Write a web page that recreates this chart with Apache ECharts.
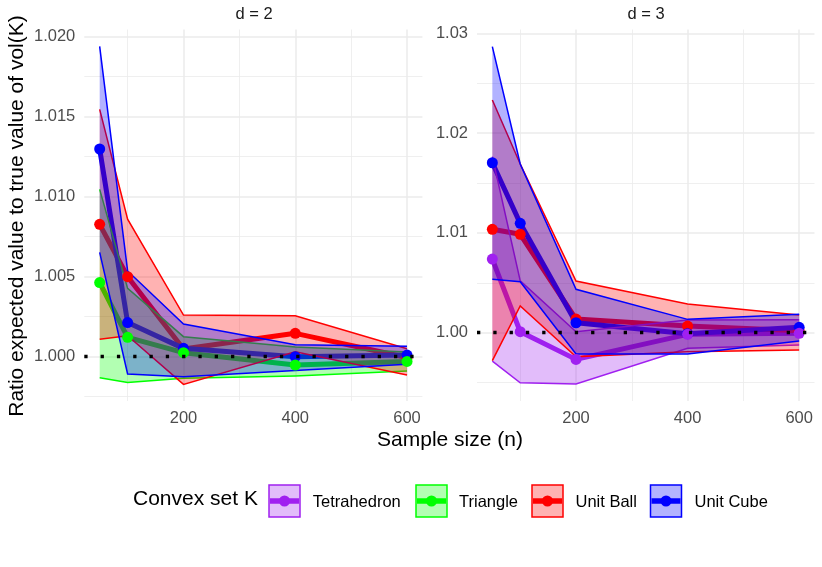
<!DOCTYPE html>
<html>
<head>
<meta charset="utf-8">
<script src="https://cdn.jsdelivr.net/npm/echarts@6/dist/echarts.min.js"></script>
<style>
html, body { margin: 0; padding: 0; background: #fff; }
#main { width: 822px; height: 567px; }
</style>
</head>
<body>
<div id="main"></div>
<script>
// sample sizes on the x axis
var sample_size = [50, 100, 200, 400, 600];

// d = 2
var triangle_mean = [1.00463, 1.00121, 1.00025, 0.99948, 0.99970];
var triangle_low  = [0.99869, 0.99838, 0.99865, 0.99880, 0.99910];
var triangle_up   = [1.01046, 1.00427, 1.00125, 1.00060, 1.00030];
var ball2_mean = [1.00827, 1.00500, 1.00048, 1.00146, 0.99995];
var ball2_low  = [1.00109, 1.00131, 0.99827, 1.00031, 0.99886];
var ball2_up   = [1.01546, 1.00860, 1.00260, 1.00256, 1.00050];
var cube2_mean = [1.01298, 1.00213, 1.00052, 1.00000, 1.00010];
var cube2_low  = [1.00652, 0.99892, 0.99875, 0.99914, 0.99952];
var cube2_up   = [1.01940, 1.00536, 1.00204, 1.00075, 1.00065];

// d = 3
var tetra_mean = [1.00738, 1.00010, 0.99733, 0.99984, 0.99994];
var tetra_low  = [0.99716, 0.99499, 0.99486, 0.99844, 0.99877];
var tetra_up   = [1.01764, 1.00520, 1.00010, 1.00127, 1.00130];
var ball3_mean = [1.01036, 1.00986, 1.00137, 1.00067, 1.00020];
var ball3_low  = [0.99720, 1.00268, 0.99760, 0.99810, 0.99827];
var ball3_up   = [1.02332, 1.01690, 1.00518, 1.00288, 1.00177];
var cube3_mean = [1.01703, 1.01096, 1.00100, 0.99990, 1.00054];
var cube3_low  = [1.00535, 1.00511, 0.99787, 0.99787, 0.99917];
var cube3_up   = [1.02866, 1.01690, 1.00435, 1.00134, 1.00184];

// tick values
var x_major = [200, 400, 600];
var x_minor = [100, 300, 500];
var y2_major = [1.000, 1.005, 1.010, 1.015, 1.020];
var y2_minor = [0.9975, 1.0025, 1.0075, 1.0125, 1.0175];
var y3_major = [1.00, 1.01, 1.02, 1.03];
var y3_minor = [0.995, 1.005, 1.015, 1.025];

var shape_names = ['Tetrahedron', 'Triangle', 'Unit Ball', 'Unit Cube'];
var colors = {
    'Tetrahedron': '#A020F0',
    'Triangle': '#00FF00',
    'Unit Ball': '#FF0000',
    'Unit Cube': '#0000FF'
};

var font = 'Liberation Sans, Arial, Helvetica, sans-serif';

function pairs(ys) {
    return sample_size.map(function (x, i) { return [x, ys[i]]; });
}
function fade(hex, a) {
    var r = parseInt(hex.substr(1, 2), 16), g = parseInt(hex.substr(3, 2), 16), b = parseInt(hex.substr(5, 2), 16);
    return 'rgba(' + r + ',' + g + ',' + b + ',' + a + ')';
}

// ribbon between low and up, drawn once for the whole band
function ribbonRenderer(low, up, c) {
    return function (params, api) {
        if (params.dataIndex !== 0) return null;
        var up_pts = sample_size.map(function (x, i) { return api.coord([x, up[i]]); });
        var low_pts = sample_size.map(function (x, i) { return api.coord([x, low[i]]); });
        var poly = up_pts.concat(low_pts.slice().reverse());
        return {
            type: 'group',
            children: [
                { type: 'polygon', shape: { points: poly }, style: { fill: fade(c, 0.3) } },
                { type: 'polyline', shape: { points: up_pts }, style: { stroke: c, lineWidth: 1.5, fill: null } },
                { type: 'polyline', shape: { points: low_pts }, style: { stroke: c, lineWidth: 1.5, fill: null } }
            ]
        };
    };
}

var panels = [
    {
        title: 'd = 2',
        ymin: 0.99723, ymax: 1.02045, major: y2_major, minor: y2_minor, digits: 3,
        groups: [
            ['Triangle', triangle_mean, triangle_low, triangle_up],
            ['Unit Ball', ball2_mean, ball2_low, ball2_up],
            ['Unit Cube', cube2_mean, cube2_low, cube2_up]
        ]
    },
    {
        title: 'd = 3',
        ymin: 0.99316, ymax: 1.03038, major: y3_major, minor: y3_minor, digits: 2,
        groups: [
            ['Tetrahedron', tetra_mean, tetra_low, tetra_up],
            ['Unit Ball', ball3_mean, ball3_low, ball3_up],
            ['Unit Cube', cube3_mean, cube3_low, cube3_up]
        ]
    }
];
// points: unit ball, unit cube, then the d-specific shape on top
var point_order = [1, 2, 0];

var grids = [
    { left: 84.3, right: 399.6, top: 29.5, bottom: 166 },
    { left: 477, right: 7.5, top: 29.5, bottom: 166 }
];

var xAxes = [], yAxes = [], series = [];

panels.forEach(function (p, pi) {
    // major + minor axes for each panel
    xAxes.push({
        gridIndex: pi, type: 'value', min: 22.5, max: 627.5,
        axisLine: { show: false },
        axisTick: { show: false, customValues: x_major },
        axisLabel: { customValues: x_major, color: '#4D4D4D', fontSize: 16.5, fontFamily: font, margin: 9 },
        splitLine: { show: true, lineStyle: { color: '#EBEBEB', width: 1.5 } }
    });
    xAxes.push({
        gridIndex: pi, type: 'value', min: 22.5, max: 627.5, position: 'bottom',
        axisLine: { show: false },
        axisTick: { show: false, customValues: x_minor },
        axisLabel: { show: false },
        splitLine: { show: true, lineStyle: { color: '#EBEBEB', width: 0.8 } }
    });
    yAxes.push({
        gridIndex: pi, type: 'value', min: p.ymin, max: p.ymax,
        axisLine: { show: false },
        axisTick: { show: false, customValues: p.major },
        axisLabel: {
            customValues: p.major, color: '#4D4D4D', fontSize: 16.5, fontFamily: font, margin: 9,
            formatter: (function (dg) { return function (v) { return Number(v).toFixed(dg); }; })(p.digits)
        },
        splitLine: { show: true, lineStyle: { color: '#EBEBEB', width: 1.5 } }
    });
    yAxes.push({
        gridIndex: pi, type: 'value', min: p.ymin, max: p.ymax, position: 'left',
        axisLine: { show: false },
        axisTick: { show: false, customValues: p.minor },
        axisLabel: { show: false },
        splitLine: { show: true, lineStyle: { color: '#EBEBEB', width: 0.8 } }
    });

    var xi = pi * 2, yi = pi * 2;

    // mean lines (drawn under the ribbons)
    p.groups.forEach(function (g) {
        series.push({
            name: g[0], type: 'line', xAxisIndex: xi, yAxisIndex: yi,
            data: pairs(g[1]), showSymbol: false, silent: true, z: 2,
            lineStyle: { color: colors[g[0]], width: 5, join: 'round' }
        });
    });

    // ribbons
    p.groups.forEach(function (g) {
        series.push({
            name: g[0], type: 'custom', xAxisIndex: xi, yAxisIndex: yi,
            data: sample_size.map(function (x, i) { return [x, g[2][i], g[3][i]]; }),
            encode: { x: 0, y: [1, 2] },
            renderItem: ribbonRenderer(g[2], g[3], colors[g[0]]),
            silent: true, z: 3
        });
    });

    // points
    point_order.forEach(function (k, j) {
        var g = p.groups[k];
        var s = {
            name: g[0], type: 'scatter', xAxisIndex: xi, yAxisIndex: yi,
            data: pairs(g[1]), symbolSize: 11, silent: true, z: 4,
            itemStyle: { color: colors[g[0]], opacity: 1 }
        };
        if (j === point_order.length - 1) {
            s.markLine = {
                silent: true, symbol: ['none', 'none'], label: { show: false },
                lineStyle: { color: '#000000', width: 3.3, type: [3.3, 13], opacity: 1 },
                data: [{ yAxis: 1 }]
            };
        }
        series.push(s);
    });
});

// legend keys
var key_x = [269, 416, 532, 650.5];
var label_x = [312.7, 459, 575.5, 694.5];
var legend_items = [];
legend_items.push({
    type: 'text', left: 133, top: 501 - 12,
    style: { text: 'Convex set K', fill: '#000', font: '21px ' + font }
});
shape_names.forEach(function (name, i) {
    var c = colors[name];
    var kx = key_x[i];
    legend_items.push({
        type: 'rect', shape: { x: kx, y: 485, width: 31, height: 32 },
        style: { fill: fade(c, 0.3), stroke: c, lineWidth: 1.5 }
    });
    legend_items.push({
        type: 'line', shape: { x1: kx + 1, y1: 501, x2: kx + 30, y2: 501 },
        style: { stroke: c, lineWidth: 5.5 }
    });
    legend_items.push({
        type: 'circle', shape: { cx: kx + 15.5, cy: 501, r: 5.5 },
        style: { fill: c }
    });
    legend_items.push({
        type: 'text', x: label_x[i], y: 502,
        style: { text: name, fill: '#000', font: '16.5px ' + font, textAlign: 'left', textVerticalAlign: 'middle', align: 'left', verticalAlign: 'middle' }
    });
});

var option = {
    animation: false,
    backgroundColor: '#ffffff',
    grid: grids,
    xAxis: xAxes,
    yAxis: yAxes,
    series: series,
    graphic: [
        {
            type: 'text', x: 254, y: 14,
            style: { text: 'd = 2', fill: '#1A1A1A', font: '16.5px ' + font, textAlign: 'center', textVerticalAlign: 'middle', align: 'center', verticalAlign: 'middle' }
        },
        {
            type: 'text', x: 646, y: 14,
            style: { text: 'd = 3', fill: '#1A1A1A', font: '16.5px ' + font, textAlign: 'center', textVerticalAlign: 'middle', align: 'center', verticalAlign: 'middle' }
        },
        {
            type: 'text', x: 450, y: 440,
            style: { text: 'Sample size (n)', fill: '#000', font: '21px ' + font, textAlign: 'center', textVerticalAlign: 'middle', align: 'center', verticalAlign: 'middle' }
        },
        {
            type: 'text', x: 17, y: 216, rotation: Math.PI / 2,
            style: { text: 'Ratio expected value to true value of vol(K)', fill: '#000', font: '21px ' + font, textAlign: 'center', textVerticalAlign: 'middle', align: 'center', verticalAlign: 'middle' }
        }
    ].concat(legend_items)
};

var chart = echarts.init(document.getElementById('main'));
chart.setOption(option);
</script>
</body>
</html>
